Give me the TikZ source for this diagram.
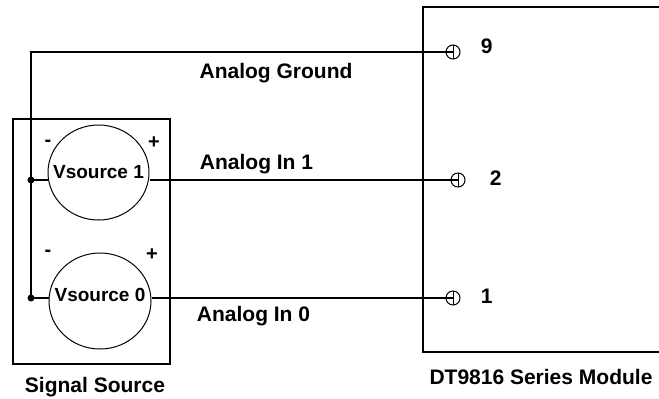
\documentclass[tikz,border=0pt]{standalone}
\usepackage{fontspec}
\setmainfont{Liberation Sans}
\usetikzlibrary{shapes.geometric, positioning}

\begin{document}
\begin{tikzpicture}[
  x=0.5pt, y=-0.5pt,
  font=\bfseries\fontsize{10.5}{12}\selectfont,
  wire/.style={draw, line width=1pt},
  box/.style={rectangle, draw, line width=1pt, inner sep=0pt},
  vsrc/.style={ellipse, draw, line width=0.5pt, inner sep=0pt},
  vtext/.style={inner sep=0pt, font=\bfseries\fontsize{9.5}{11}\selectfont},
  term/.style={circle, draw, line width=0.5pt, inner sep=0pt, minimum size=7pt,
    path picture={\draw[line width=0.5pt] (path picture bounding box.north) -- (path picture bounding box.south);}},
  dot/.style={circle, fill, inner sep=0pt, minimum size=3.5pt},
  sign/.style={inner sep=0pt, font=\bfseries\fontsize{10}{12}\selectfont}
]
\useasboundingbox (0,0) rectangle (659,398);

% Boxes
\node[box, minimum width=78.5pt, minimum height=122.5pt] (src) at (91.5,241.5) {};
\node[box, minimum width=130pt, minimum height=172.5pt] (module) at (553,179.5) {};
\node (srclabel) at (95,387) {Signal Source};
\node (modlabel) at (541,377) {DT9816 Series Module};

% Voltage sources
\node[vsrc, minimum width=50.5pt, minimum height=47.5pt, label={[vtext]center:Vsource 1}] (v1) at (98.5,172.5) {};
\node[vsrc, minimum width=51pt, minimum height=48pt, label={[vtext, yshift=3pt]center:Vsource 0}] (v0) at (100,301) {};
\node[sign] (v1minus) at (48,143) {-};
\node[sign] (v1plus) at (154,143) {+};
\node[sign] (v0minus) at (48,253) {-};
\node[sign] (v0plus) at (152,255) {+};

% Terminals
\node[term] (t9) at (453,52) {};
\node[term] (t2) at (458,180) {};
\node[term] (t1) at (453,298) {};
\node[inner sep=0pt, right=10pt of t9, yshift=3pt] (n9) {9};
\node[inner sep=0pt, right=12pt of t2, yshift=1pt] (n2) {2};
\node[inner sep=0pt, right=10pt of t1, yshift=1pt] (n1) {1};

% Wiring
\coordinate (gnd) at (31,53);
\node[dot] (d1) at (31,180) {};
\node[dot] (d0) at (31,298) {};
\draw[wire] (t9.center) -- (t9.center -| gnd) -- (d0.center);
\draw[wire] (d1.center) -- (d1 -| v1.west);
\draw[wire] (d0.center) -- (d0 -| v0.west);
\draw[wire] (v1.east |- t2) -- (t2.center);
\draw[wire] (v0.east |- t1) -- (t1.center);

% Wire labels
\node (gndlabel) at (276,73) {Analog Ground};
\node (in1label) at (256.5,164) {Analog In 1};
\node (in0label) at (253.5,316) {Analog In 0};

\end{tikzpicture}
\end{document}
